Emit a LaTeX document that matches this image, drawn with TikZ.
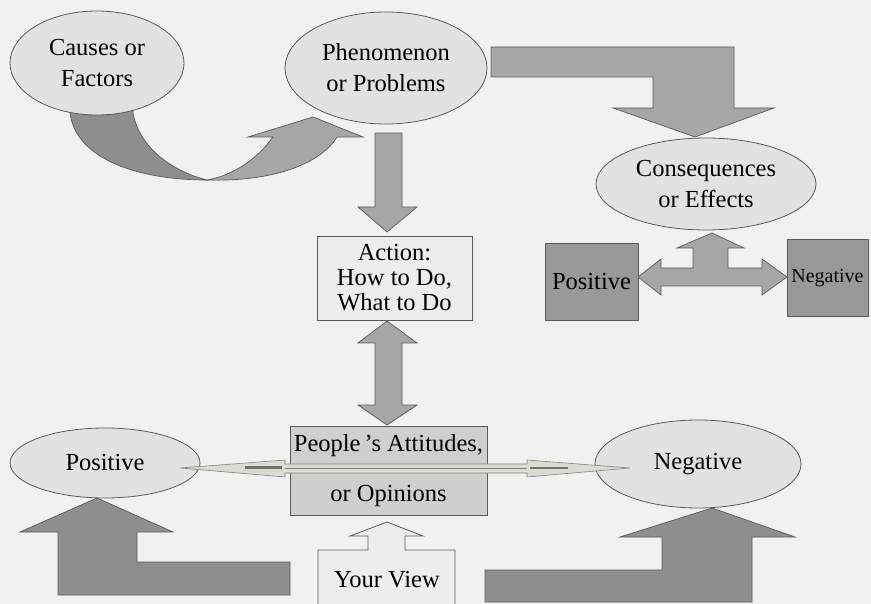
\documentclass[tikz,border=0pt]{standalone}
\usepackage{fontspec}
\setmainfont{Liberation Serif}
\usetikzlibrary{shapes.geometric}
\newcommand\fsmain{\fontsize{24.5}{31}\selectfont}
\definecolor{bgc}{HTML}{F1F1F1}
\definecolor{ellc}{HTML}{E2E2E2}
\definecolor{arrc}{HTML}{A6A6A6}
\definecolor{darkc}{HTML}{8E8E8E}
\definecolor{boxc}{HTML}{999999}
\definecolor{peoc}{HTML}{CFCFCF}
\definecolor{actc}{HTML}{EDEDED}
\definecolor{linec}{HTML}{5A5A5A}
\tikzset{
  oval/.style={ellipse, draw=linec, fill=ellc, line width=0.8pt, inner sep=0pt, align=center, font=\fsmain},
  rbox/.style={rectangle, draw=linec, line width=0.8pt, inner sep=0pt, align=center, font=\fsmain},
  blockarrow/.style={draw=linec, line width=0.7pt, fill=arrc},
  darkarrow/.style={draw=linec, line width=0.7pt, fill=darkc},
  thinarrow/.style={draw=gray, line width=0.6pt, fill=HTML-thin},
}
\definecolor{HTML-thin}{HTML}{DCDCD2}
\begin{document}
\begin{tikzpicture}[x=1pt,y=-1pt]
\useasboundingbox (0,0) rectangle (871,604);
\fill[bgc] (0,0) rectangle (871,604);

% curved arrow Causes -> Phenomenon
\path[darkarrow] (70,105) -- (70,113) .. controls (76,160) and (140,180) .. (207,180)
  .. controls (175,172) and (140,150) .. (133,113) -- (133,105) -- cycle;
\path[blockarrow] (207,180) .. controls (270,182) and (320,165) .. (337,137) -- (363,137) -- (313,117)
  -- (248,137) -- (273,137) .. controls (255,162) and (230,176) .. (207,180) -- cycle;

% Phenomenon -> Action
\path[blockarrow] (375,133) -- (402,133) -- (402,207) -- (417,207) -- (387,232) -- (358,207) -- (375,207) -- cycle;

% Action <-> People
\path[blockarrow] (387,321) -- (417,343) -- (402,343) -- (402,405) -- (417,405) -- (387,425)
  -- (358,405) -- (375,405) -- (375,343) -- (358,343) -- cycle;

% Phenomenon -> Consequences
\path[blockarrow] (491,47) -- (734,47) -- (734,108) -- (774,108) -- (695,137) -- (613,108)
  -- (653,108) -- (653,77) -- (491,77) -- cycle;

% T arrow Consequences -> Positive / Negative
\path[blockarrow] (712,233) -- (744,248) -- (728,248) -- (728,268) -- (762,268) -- (762,259) -- (787,277)
  -- (762,295) -- (762,286) -- (661,286) -- (661,295) -- (638,277) -- (661,259) -- (661,268)
  -- (693,268) -- (693,248) -- (677,248) -- cycle;

% L arrows at bottom
\path[darkarrow] (58,595) -- (58,532) -- (20,532) -- (97,498) -- (173,532) -- (137,532) -- (137,562)
  -- (290,562) -- (290,595) -- cycle;
\path[darkarrow] (752,602) -- (752,537) -- (795,537) -- (712,508) -- (620,537) -- (662,537) -- (662,570)
  -- (485,570) -- (485,602) -- cycle;

% Your View callout
\path[draw=linec, line width=0.8pt, fill=actc] (318,610) -- (318,550) -- (368,550) -- (368,536) -- (350,536)
  -- (387,522) -- (423,536) -- (405,536) -- (405,550) -- (455,550) -- (455,610);
\node[font=\fsmain] (view) at (387,580) {Your View};

% nodes
\node[oval, minimum width=174pt, minimum height=104pt] (causes) at (97,63) {Causes or\\Factors};
\node[oval, minimum width=202pt, minimum height=112pt] (phen) at (386,68) {Phenomenon\\or Problems};
\node[oval, minimum width=220pt, minimum height=92pt] (conseq) at (706,184) {Consequences\\or Effects};
\node[rbox, fill=actc, minimum width=155pt, minimum height=84pt, font=\fontsize{24.5}{25}\selectfont] (action) at (394.5,278) {Action:\\How to Do,\\What to Do};
\node[rbox, fill=peoc, minimum width=197pt, minimum height=89pt, font=\fontsize{24.5}{50}\selectfont] (people) at (388.5,471) {People\,’s Attitudes,\\or Opinions};
\node[rbox, fill=boxc, minimum width=93pt, minimum height=77pt] (posR) at (591.5,281.5) {Positive};
\node[rbox, fill=boxc, minimum width=81pt, minimum height=77pt, font=\fontsize{20}{24}\selectfont] (negR) at (827.5,278) {Negative};
\node[oval, minimum width=190pt, minimum height=70pt] (posL) at (105,463) {Positive};
\node[oval, minimum width=206pt, minimum height=88pt] (negL) at (698,464) {Negative};

% thin double arrow through People box
\path[thinarrow] (180,468) -- (285,460) -- (285,464) -- (527,464) -- (527,460) -- (630,468)
  -- (527,477) -- (527,473) -- (285,473) -- (285,477) -- cycle;
\draw[gray, line width=0.6pt] (285,468.5) -- (527,468.5);
\draw[darkc!80!black, line width=2.5pt] (245,467.5) -- (282,467.5);
\draw[darkc!80!black, line width=2.5pt] (530,468) -- (568,468);
\end{tikzpicture}
\end{document}
